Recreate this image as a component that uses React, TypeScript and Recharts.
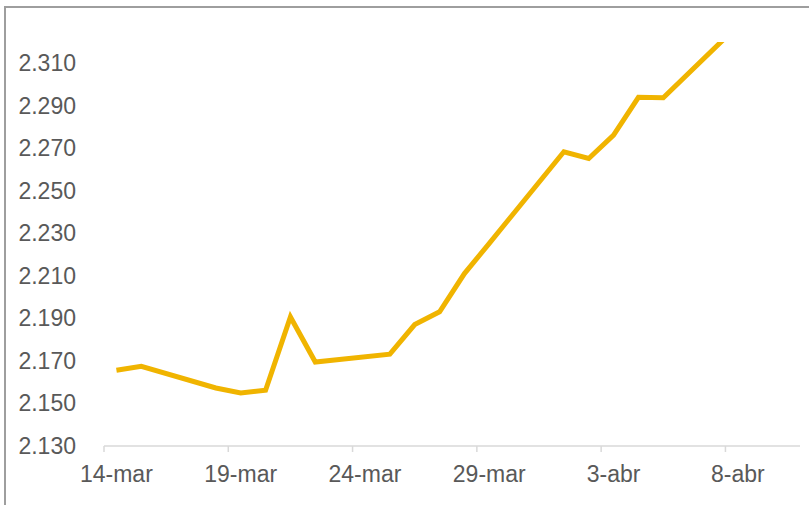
import { LineChart, Line, XAxis, YAxis } from 'recharts'

// days counted from 14-mar; each day is one band on the date axis
const dayOffsets = [0, 1, 4, 5, 6, 7, 8, 11, 12, 13, 14, 15, 18, 19, 20, 21, 22, 25]
const dates = ['14-mar', '15-mar', '18-mar', '19-mar', '20-mar', '21-mar', '22-mar', '25-mar', '26-mar', '27-mar', '28-mar', '29-mar', '1-abr', '2-abr', '3-abr', '4-abr', '5-abr', '8-abr']
const values = [2.1656, 2.1675, 2.1573, 2.1549, 2.1562, 2.1907, 2.1695, 2.1732, 2.1871, 2.1931, 2.2111, 2.2253, 2.2684, 2.2652, 2.2762, 2.294, 2.2938, 2.3277]

const xTickOffsets = [0, 5, 10, 15, 20, 25]
const xTickLabels = ['14-mar', '19-mar', '24-mar', '29-mar', '3-abr', '8-abr']
const yTicks = [2.13, 2.15, 2.17, 2.19, 2.21, 2.23, 2.25, 2.27, 2.29, 2.31]

const data = dayOffsets.map((d, i) => ({ x: d + 0.5, date: dates[i], v: values[i] }))

const FONT = '"Liberation Sans", Arial, sans-serif'
const TEXT = '#595959'
const AXIS = '#d9d9d9'

function XTick(props: any) {
  const { x, y, payload } = props
  const i = xTickOffsets.indexOf(payload.value)
  return (
    <g>
      <line x1={x} y1={y - 8} x2={x} y2={y - 2} stroke={AXIS} strokeWidth={1.5} />
      <text x={x + 12.4} y={y + 28} textAnchor="middle" fontSize={23} fontFamily={FONT} fill={TEXT}>
        {xTickLabels[i]}
      </text>
    </g>
  )
}

function YTick(props: any) {
  const { y, payload } = props
  return (
    <text x={76} y={y} dy={8} textAnchor="end" fontSize={23} fontFamily={FONT} fill={TEXT}>
      {payload.value.toFixed(3)}
    </text>
  )
}

export default function App() {
  return (
    <div style={{ position: 'absolute', left: 0, top: 0, width: 809, height: 505, overflow: 'hidden', background: '#fff' }}>
      <div style={{ position: 'absolute', left: 4, top: 6, width: 900, height: 600, border: '2px solid #9e9e9e' }} />
      <LineChart width={809} height={505} data={data} margin={{ top: 42, right: 9, bottom: 0, left: 0 }} style={{ position: 'absolute', left: 0, top: 0 }}>
        <XAxis
          type="number"
          dataKey="x"
          domain={[0, 28]}
          ticks={xTickOffsets}
          interval={0}
          height={59}
          stroke={AXIS}
          strokeWidth={1.5}
          tickLine={false}
          tick={<XTick />}
        />
        <YAxis
          type="number"
          domain={[2.13, 2.32]}
          ticks={yTicks}
          allowDataOverflow
          width={104}
          axisLine={false}
          tickLine={false}
          tick={<YTick />}
        />
        <Line type="linear" dataKey="v" stroke="#F0B400" strokeWidth={5} dot={false} isAnimationActive={false} />
      </LineChart>
    </div>
  )
}
